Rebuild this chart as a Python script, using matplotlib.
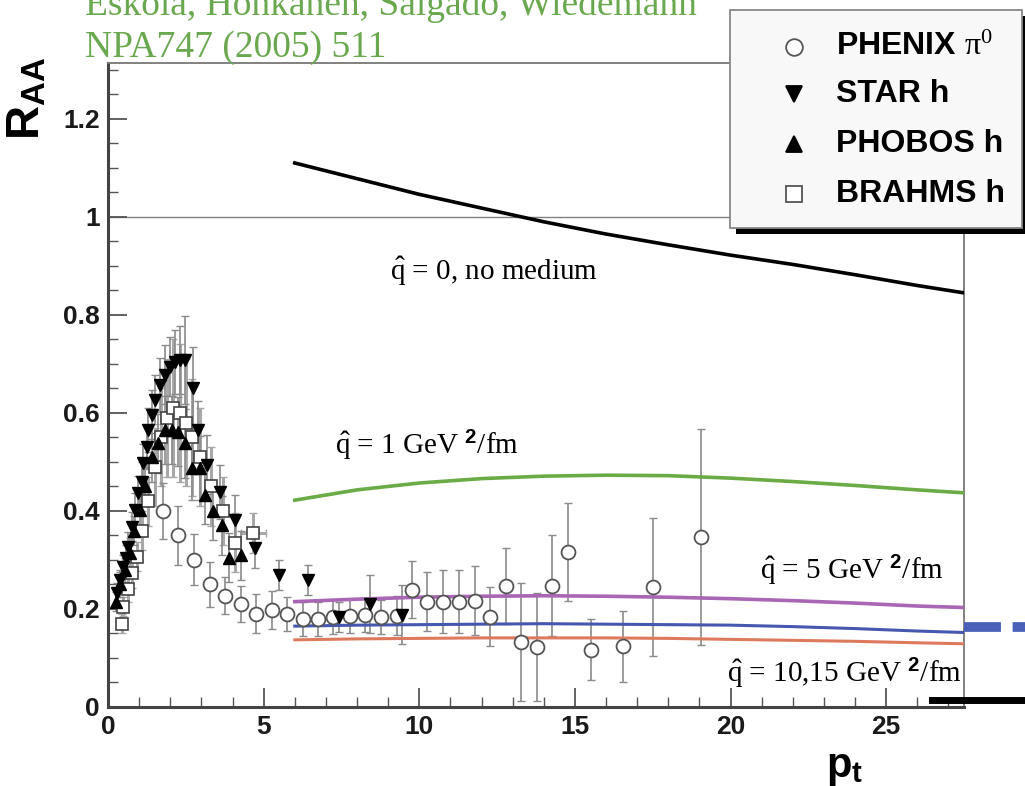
import numpy as np
import matplotlib
matplotlib.use('Agg')
from matplotlib import pyplot as plt
from matplotlib.lines import Line2D
from matplotlib.patches import Rectangle

plt.rcParams['mathtext.fontset'] = 'custom'
plt.rcParams['mathtext.rm'] = 'Liberation Serif'
plt.rcParams['mathtext.it'] = 'Liberation Serif:italic'
plt.rcParams['mathtext.bf'] = 'Liberation Sans:bold'
plt.rcParams['font.family'] = ['Liberation Sans', 'DejaVu Sans']

# --- model curves (Eskola et al.) ---
curve_x = [6, 8, 10, 12, 14, 16, 18, 20, 22, 24, 26, 27.5]
q0 = [1.11, 1.078, 1.046, 1.018, 0.99, 0.965, 0.943, 0.922, 0.903, 0.882, 0.86, 0.845]
q1 = [0.422, 0.443, 0.457, 0.466, 0.471, 0.473, 0.472, 0.467, 0.46, 0.452, 0.443, 0.437]
q5 = [0.215, 0.22, 0.224, 0.226, 0.227, 0.226, 0.224, 0.221, 0.217, 0.212, 0.206, 0.203]
q10 = [0.165, 0.167, 0.168, 0.169, 0.17, 0.169, 0.168, 0.167, 0.164, 0.16, 0.155, 0.152]
q15 = [0.137, 0.139, 0.14, 0.141, 0.141, 0.141, 0.14, 0.138, 0.136, 0.134, 0.131, 0.129]

# --- data ---
phenix_x = [1.77, 2.26, 2.76, 3.28, 3.76, 4.26, 4.76, 5.26, 5.76, 6.28, 6.76, 7.24, 7.78, 8.26,
            8.77, 9.27, 9.78, 10.26, 10.75, 11.28, 11.79, 12.27, 12.78, 13.26, 13.77, 14.25,
            14.77, 15.51, 16.53, 17.52, 19.04]
phenix_y = [0.40, 0.35, 0.30, 0.25, 0.227, 0.21, 0.19, 0.198, 0.19, 0.18, 0.18, 0.184, 0.186, 0.188,
            0.183, 0.186, 0.239, 0.215, 0.215, 0.215, 0.217, 0.184, 0.247, 0.133, 0.123, 0.247,
            0.317, 0.117, 0.124, 0.245, 0.347]
phenix_err = [0.058, 0.06, 0.052, 0.046, 0.038, 0.037, 0.04, 0.038, 0.035, 0.035, 0.035, 0.035, 0.035,
              0.035, 0.035, 0.04, 0.058, 0.06, 0.065, 0.065, 0.07, 0.06, 0.078, 0.12, 0.11, 0.103,
              0.1, 0.062, 0.072, 0.14, 0.22]

star_x = [0.28, 0.4, 0.49, 0.58, 0.65, 0.76, 0.87, 0.97, 1.08, 1.13, 1.24, 1.29, 1.4, 1.51, 1.67,
          1.83, 1.99, 2.15, 2.31, 2.47, 2.72, 2.9, 3.17, 3.6, 4.08, 4.72, 5.5, 6.44, 7.43, 8.42, 9.43]
star_y = [0.232, 0.26, 0.286, 0.305, 0.327, 0.368, 0.402, 0.437, 0.46, 0.497, 0.531, 0.565, 0.596,
          0.627, 0.657, 0.678, 0.694, 0.704, 0.708, 0.708, 0.65, 0.565, 0.494, 0.439, 0.382, 0.324,
          0.269, 0.259, 0.184, 0.21, 0.188]
star_err = [0.02, 0.02, 0.025, 0.025, 0.03, 0.03, 0.035, 0.035, 0.04, 0.04, 0.045, 0.045, 0.05, 0.05,
            0.055, 0.06, 0.06, 0.065, 0.07, 0.09, 0.085, 0.06, 0.06, 0.055, 0.05, 0.04, 0.03, 0.03,
            0.03, 0.06, 0.06]

phobos_x = [0.25, 0.4, 0.55, 0.7, 0.85, 1.03, 1.19, 1.4, 1.61, 1.83, 2.05, 2.26, 2.47, 2.69, 2.95,
            3.12, 3.38, 3.65, 3.88, 4.27]
phobos_y = [0.215, 0.25, 0.28, 0.315, 0.36, 0.402, 0.45, 0.51, 0.538, 0.565, 0.565, 0.562, 0.538,
            0.487, 0.487, 0.433, 0.40, 0.371, 0.305, 0.31]
phobos_err = [0.02, 0.025, 0.025, 0.03, 0.03, 0.035, 0.04, 0.05, 0.06, 0.07, 0.07, 0.07, 0.07, 0.065,
              0.065, 0.06, 0.06, 0.06, 0.05, 0.05]

brahms_x = [0.44, 0.49, 0.65, 0.76, 0.92, 1.1, 1.3, 1.5, 1.7, 1.9, 2.1, 2.3, 2.5, 2.7, 2.95, 3.3,
            3.7, 4.08, 4.67]
brahms_y = [0.17, 0.205, 0.24, 0.273, 0.307, 0.36, 0.42, 0.49, 0.55, 0.59, 0.61, 0.6, 0.58, 0.55,
            0.51, 0.45, 0.4, 0.335, 0.355]
brahms_err = [0.02, 0.02, 0.025, 0.03, 0.03, 0.04, 0.05, 0.08, 0.1, 0.12, 0.14, 0.14, 0.13, 0.12,
              0.1, 0.08, 0.07, 0.06, 0.04]
brahms_xerr = [0] * 18 + [0.4]

xticks = [0, 5, 10, 15, 20, 25]
yticks = [0, 0.2, 0.4, 0.6, 0.8, 1.0, 1.2]
yticklabels = ['0', '0.2', '0.4', '0.6', '0.8', '1', '1.2']

W, H = 1025, 786
fig = plt.figure(figsize=(W / 100, H / 100), dpi=100)
ax = fig.add_axes([108 / W, 1 - 707 / H, 856 / W, 644 / H])

ax.axhline(1.0, color='#808080', lw=1.0, zorder=1)

# error bars first
ecol = '#8a8a8a'
ax.errorbar(brahms_x, brahms_y, yerr=brahms_err, xerr=brahms_xerr, fmt='none', ecolor='#a8a8a8',
            elinewidth=2.2, capsize=3, zorder=2)
ax.errorbar(phenix_x, phenix_y, yerr=phenix_err, fmt='none', ecolor=ecol, elinewidth=1.2, capsize=3, zorder=2)
ax.errorbar(star_x, star_y, yerr=star_err, fmt='none', ecolor=ecol, elinewidth=1.2, capsize=3, zorder=2)
ax.errorbar(phobos_x, phobos_y, yerr=phobos_err, fmt='none', ecolor=ecol, elinewidth=1.2, capsize=3, zorder=2)

# curves
ax.plot(curve_x, q0, color='black', lw=2.6, zorder=3)
ax.plot(curve_x, q1, color='#6aab46', lw=2.6, zorder=3)
ax.plot(curve_x, q5, color='#a866b4', lw=2.6, zorder=3)
ax.plot(curve_x, q10, color='#4657b0', lw=2.2, zorder=3)
ax.plot(curve_x, q15, color='#dd7a5e', lw=2.2, zorder=3)

# markers
ax.plot(brahms_x, brahms_y, 's', ms=9, mfc='white', mec='#444444', mew=1.2, zorder=4)
ax.plot(phenix_x, phenix_y, 'o', ms=10, mfc='white', mec='#555555', mew=1.3, zorder=5)
ax.plot(phobos_x, phobos_y, '^', ms=9, color='black', zorder=6)
ax.plot(star_x, star_y, 'v', ms=9, color='black', zorder=6)

ax.set_xlim(0, 27.5)
ax.set_ylim(0, 1.314)
ax.set_xticks(xticks)
ax.set_xticklabels([str(t) for t in xticks], fontweight='bold', fontsize=19)
ax.set_xticks(np.arange(0, 28, 1), minor=True)
ax.set_yticks(yticks)
ax.set_yticklabels(yticklabels, fontweight='bold', fontsize=19)
ax.set_yticks(np.arange(0, 1.31, 0.05), minor=True)
ax.tick_params(which='both', direction='in', top=False, right=False, colors='#555555')
ax.tick_params(which='major', length=14, width=1.3, pad=6, labelcolor='#1a1a1a')
ax.tick_params(which='minor', length=7, width=1.0)
ax.tick_params(axis='x', which='major', pad=6)
for s in ['left', 'bottom']:
    ax.spines[s].set_linewidth(2.2)
    ax.spines[s].set_color('#444444')
for s in ['top', 'right']:
    ax.spines[s].set_linewidth(1.3)
    ax.spines[s].set_color('#777777')

# curve labels
serif = 'Liberation Serif'
ax.text(9.06, 0.888, r'$\hat{\mathrm{q}}$ = 0, no medium', family=serif, fontsize=21, va='center')
ax.text(7.3, 0.535, r'$\hat{\mathrm{q}}$ = 1 GeV $^{\mathbf{2}}$/fm', family=serif, fontsize=21, va='center')
ax.text(20.95, 0.28, r'$\hat{\mathrm{q}}$ = 5 GeV $^{\mathbf{2}}$/fm', family=serif, fontsize=21, va='center')
ax.text(19.9, 0.07, r'$\hat{\mathrm{q}}$ = 10,15 GeV $^{\mathbf{2}}$/fm', family=serif, fontsize=21, va='center')

# reference header
green = '#6aa84f'
fig.text(85 / W, 1 - 15 / H, 'Eskola, Honkanen, Salgado, Wiedemann', family=serif, fontsize=27,
         color=green, va='baseline')
fig.text(85 / W, 1 - 57 / H, 'NPA747 (2005) 511', family=serif, fontsize=27, color=green, va='baseline')

# axis titles
fig.text(28 / W, 1 - 98 / H, r'$\mathbf{R}_{\mathbf{AA}}$', rotation=90, fontsize=34, ha='center', va='center')
fig.text(845 / W, 1 - 768 / H, r'$\mathbf{p}_{\mathbf{t}}$', fontsize=30, ha='center', va='center')

# legend box with hard shadow
fig.add_artist(Rectangle((736 / W, 1 - 234 / H), 300 / W, 218 / H, facecolor='black',
                         transform=fig.transFigure, zorder=8))
fig.add_artist(Rectangle((730 / W, 1 - 228 / H), 292 / W, 218 / H, facecolor='#f8f8f8',
                         edgecolor='#888888', lw=1.3, transform=fig.transFigure, zorder=9))
leg_rows = [47, 94, 144, 194]
leg_labels = [r'PHENIX $\mathrm{\pi}^{0}$', 'STAR h', 'PHOBOS h', 'BRAHMS h']
leg_markers = [('o', 'white', '#555555'), ('v', 'black', 'black'), ('^', 'black', 'black'),
               ('s', 'white', '#555555')]
for yy, lab, (m, fc, ec) in zip(leg_rows, leg_labels, leg_markers):
    fig.add_artist(Line2D([794 / W], [1 - yy / H], marker=m, ms=12, mfc=fc, mec=ec, mew=1.3,
                          transform=fig.transFigure, zorder=10))
    fig.text(836 / W, 1 - yy / H, lab, fontsize=23, fontweight='bold', va='center', zorder=10)

# overlay strokes at the right edge
fig.add_artist(Line2D([932 / W, 1.0], [1 - 700 / H] * 2, color='black', lw=5, transform=fig.transFigure))
fig.add_artist(Line2D([964 / W, 1.0], [1 - 627 / H] * 2, color='#4a5fb8', lw=7, dashes=(3.8, 1.2),
                      transform=fig.transFigure))

fig.savefig('out.png', dpi=100)
